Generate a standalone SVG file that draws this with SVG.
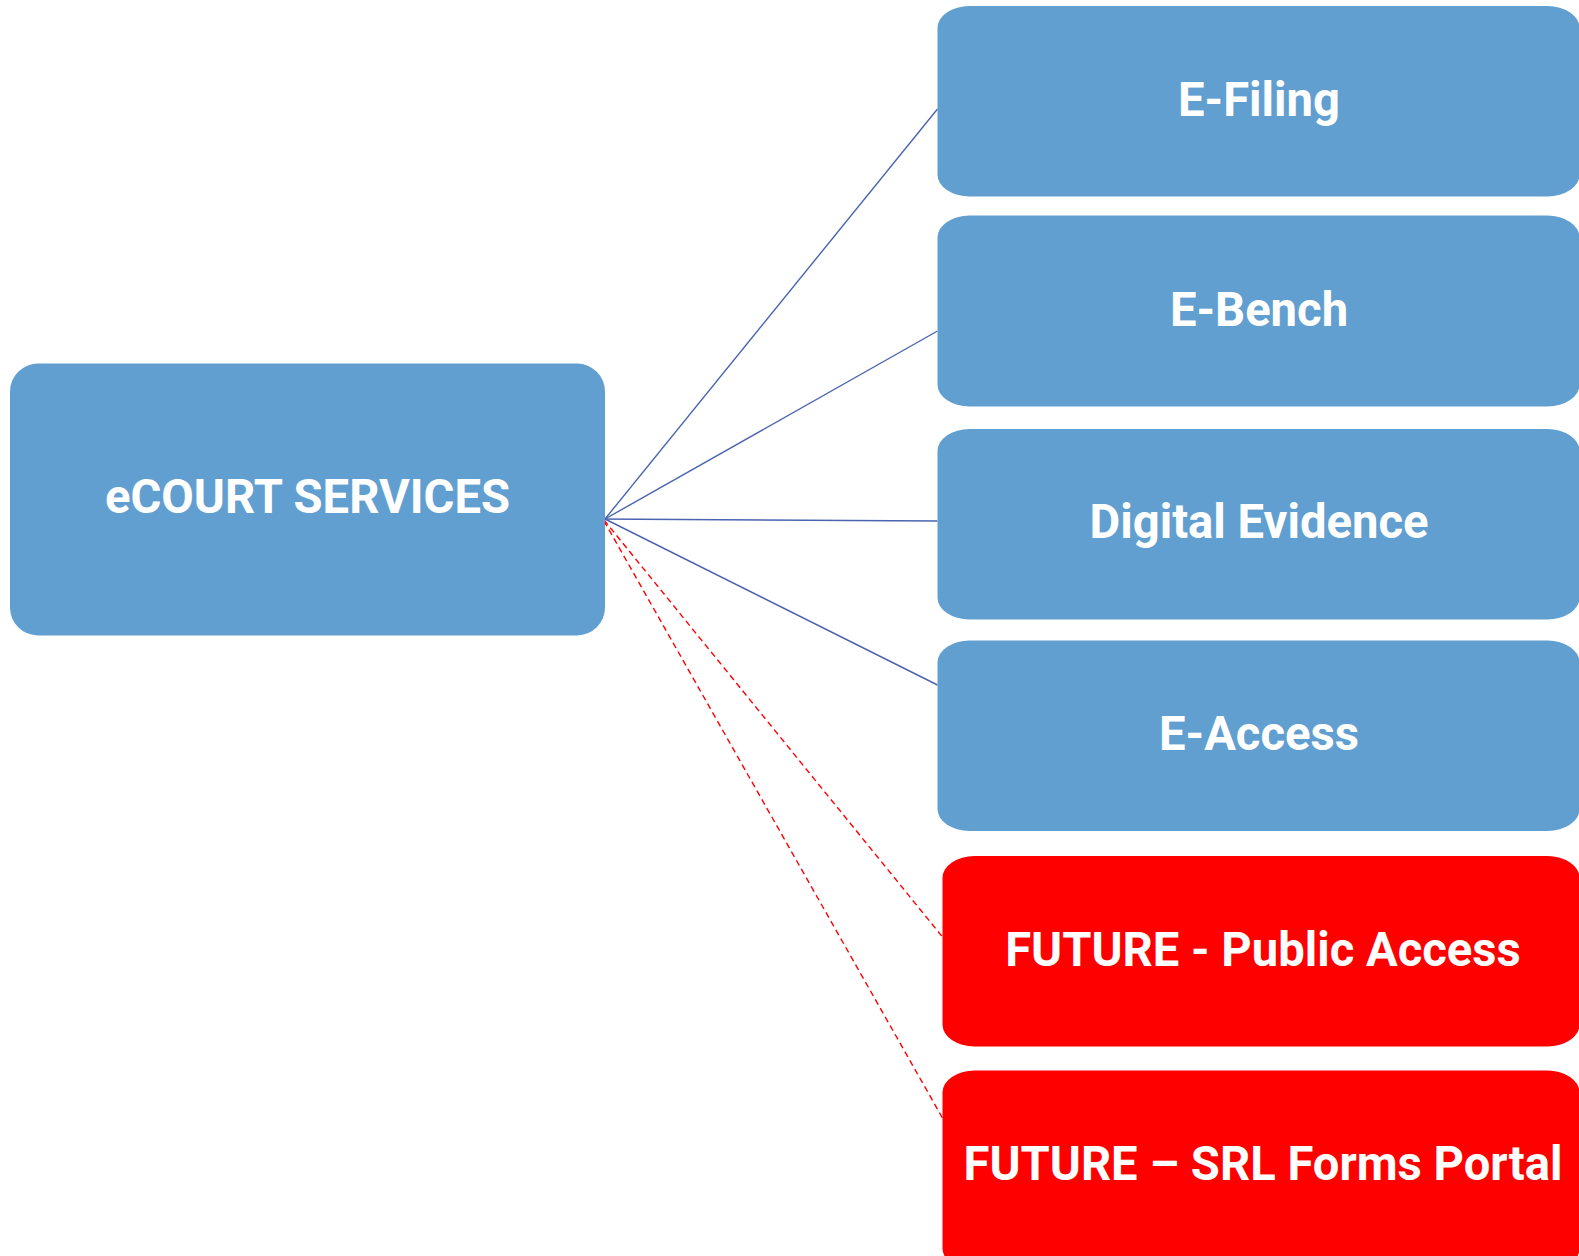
<svg xmlns="http://www.w3.org/2000/svg" width="1579" height="1256" viewBox="0 0 1579 1256">
<style>
.blue{fill:#629FD1;}
.red{fill:#FF0000;}
.lbl{font-family:Roboto,"Liberation Sans",sans-serif;font-weight:700;fill:#FFFFFF;text-anchor:middle;font-size:47.2px;}
.c{stroke:#4A64B0;stroke-width:1.4;fill:none;}
.d{stroke:#FF0000;stroke-width:1.4;fill:none;stroke-dasharray:6 4;}
</style>
<rect width="1579" height="1256" fill="#FFFFFF"/>
<g id="connectors">
<line class="c" x1="605" y1="519" x2="937.5" y2="109"/>
<line class="c" x1="605" y1="519" x2="937.5" y2="331"/>
<line class="c" x1="597" y1="519" x2="937.5" y2="521"/>
<line class="c" x1="605" y1="519" x2="937.5" y2="685"/>
<line class="d" x1="604" y1="520" x2="942.5" y2="937"/>
<line class="d" x1="604" y1="521" x2="942.5" y2="1118"/>
</g>
<g id="ecourt">
<rect class="blue" x="10" y="363.5" width="595" height="272" rx="28" ry="28"/>
<text class="lbl" x="307.5" y="513">eCOURT SERVICES</text>
</g>
<g id="efiling">
<rect class="blue" x="937.5" y="6" width="642" height="190.5" rx="32" ry="22"/>
<text class="lbl" x="1259" y="116">E-Filing</text>
</g>
<g id="ebench">
<rect class="blue" x="937.5" y="215.5" width="642" height="191" rx="32" ry="22"/>
<text class="lbl" x="1259" y="326">E-Bench</text>
</g>
<g id="digital-evidence">
<rect class="blue" x="937.5" y="429" width="642" height="190.5" rx="32" ry="22"/>
<text class="lbl" x="1259" y="538">Digital Evidence</text>
</g>
<g id="eaccess">
<rect class="blue" x="937.5" y="640.5" width="642" height="190.5" rx="32" ry="22"/>
<text class="lbl" x="1259" y="750">E-Access</text>
</g>
<g id="future-public-access">
<rect class="red" x="942.5" y="856" width="637" height="190.5" rx="32" ry="22"/>
<text class="lbl" x="1263" y="966">FUTURE - Public Access</text>
</g>
<g id="future-srl">
<rect class="red" x="942.5" y="1070.5" width="637" height="200" rx="32" ry="22"/>
<text class="lbl" x="1263" y="1180">FUTURE – SRL Forms Portal</text>
</g>
</svg>
